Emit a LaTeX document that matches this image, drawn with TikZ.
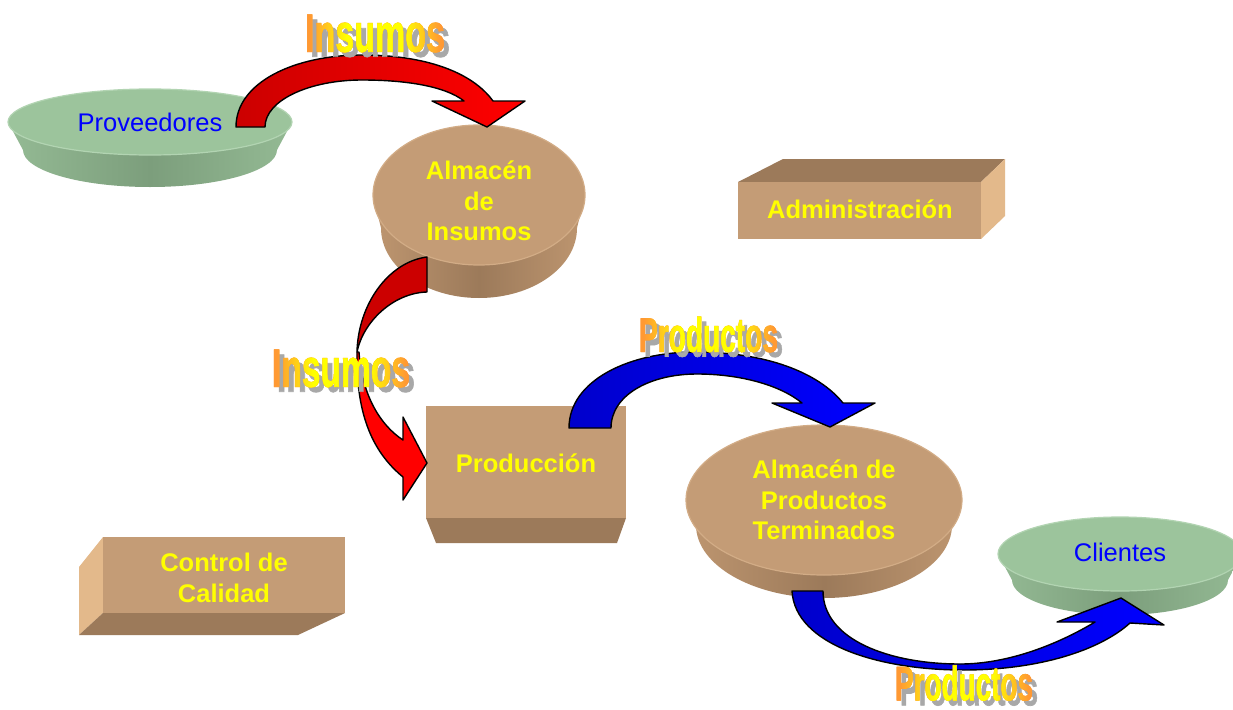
\documentclass[tikz,border=0pt]{standalone}
\usepackage{fontspec}
\setmainfont{Liberation Sans}
\newfontfamily\wafont{Liberation Sans}[BoldFeatures={FakeBold=1.5}]
\usetikzlibrary{fadings,calc}

% palette
\definecolor{tanTop}{HTML}{C49C76}
\definecolor{tanSide}{HTML}{9C7A5A}
\definecolor{tanEdge}{HTML}{BE9670}
\definecolor{tanRim}{HTML}{D2AC86}
\definecolor{tanLight}{HTML}{E3B98B}
\definecolor{grnTop}{HTML}{9CC49C}
\definecolor{grnSide}{HTML}{7C9E7C}
\definecolor{grnEdge}{HTML}{94BA94}
\definecolor{grnRim}{HTML}{B2D4B2}
\definecolor{redD}{HTML}{CC0000}
\definecolor{redB}{HTML}{FF0000}
\definecolor{bluD}{HTML}{0000CC}
\definecolor{bluB}{HTML}{0000FF}
\definecolor{labYellow}{HTML}{FFFF00}
\definecolor{labBlue}{HTML}{0000FF}
\definecolor{waOrange}{HTML}{FF9933}
\definecolor{waYellow}{HTML}{FFFF00}
\definecolor{waShadow}{HTML}{A8A8A8}

% orange-yellow-orange sweep used inside the captions
\pgfdeclarehorizontalshading{wordart}{100bp}{color(0bp)=(waOrange); color(27bp)=(waOrange);
  color(40bp)=(waYellow); color(60bp)=(waYellow); color(73bp)=(waOrange); color(100bp)=(waOrange)}

% stretched headline lettering: word, width, height
\newcommand\waword[3]{\resizebox{#2pt}{#3pt}{\wafont\bfseries #1}}

% flat cylinder: cx, cy top, rx top, ry top, cy bottom, rx bottom, ry bottom, colour prefix
\newcommand\platform[8]{%
  \shade[left color=#8Edge, right color=#8Edge, middle color=#8Side]
    (#1-#3,#2) -- (#1-#6,#5) arc[start angle=180, end angle=0, x radius=#6, y radius=#7]
    -- (#1+#3,#2) arc[start angle=0, end angle=180, x radius=#3, y radius=#4] -- cycle;
  \fill[#8Top] (#1,#2) ellipse[x radius=#3, y radius=#4];
  \draw[#8Rim, line width=1.2pt] (#1,#2) ellipse[x radius=#3, y radius=#4];
}

% lettering masks for the gradient-filled captions
\begin{tikzfadingfrompicture}[name=wfInsA]
  \node[text=transparent!0, inner sep=0pt] {\waword{Insumos}{140}{37}};
\end{tikzfadingfrompicture}
\begin{tikzfadingfrompicture}[name=wfInsB]
  \node[text=transparent!0, inner sep=0pt] {\waword{Insumos}{138}{37}};
\end{tikzfadingfrompicture}
\begin{tikzfadingfrompicture}[name=wfProdA]
  \node[text=transparent!0, inner sep=0pt] {\waword{Productos}{139}{35}};
\end{tikzfadingfrompicture}
\begin{tikzfadingfrompicture}[name=wfProdB]
  \node[text=transparent!0, inner sep=0pt] {\waword{Productos}{138}{35}};
\end{tikzfadingfrompicture}

% caption: node name, position, word, width, height, mask
\newcommand\flowcaption[6]{%
  \fill[waShadow, path fading=#6, fit fading=false,
        fading transform={shift={($(#2)+(5,5)$)}}]
    ($(#2)+(-#4/2-2,-#5/2-2)$) rectangle ($(#2)+(#4/2+7,#5/2+7)$);
  \node[waface] (#1) at (#2) {\waword{#3}{#4}{#5}};
  \shade[shading=wordart, path fading=#6, fit fading=false,
         fading transform={shift={(#1.center)}}]
    ($(#1.center)+(-#4/2-1,-#5/2-1)$) rectangle ($(#1.center)+(#4/2+1,#5/2+1)$);
}

\begin{document}
\begin{tikzpicture}[x=1pt, y=-1pt, line join=round,
  arrowline/.style={draw=black, line width=1.4pt},
  boxlabel/.style={text=labYellow, align=center, inner sep=0pt,
    font=\bfseries\fontsize{25.5}{30.5}\selectfont},
  disclabel/.style={text=labBlue, inner sep=0pt,
    font=\fontsize{25.5}{30.5}\selectfont},
  waface/.style={text=waOrange, inner sep=0pt}]
\useasboundingbox (0,0) rectangle (1233,709);
\fill[white] (0,0) rectangle (1233,709);

% ---------- platforms ----------
\platform{150}{122}{142}{33}{150}{127}{37}{grn}
\platform{479}{195}{106}{70}{228}{98}{70}{tan}
\platform{824}{500}{138}{75}{525}{128}{73}{tan}
\platform{1120}{554}{122}{37}{580}{108}{35}{grn}

% ---------- blocks ----------
% Administracion
\fill[tanSide] (738,182) -- (783,159) -- (1005,159) -- (981,182) -- cycle;
\fill[tanLight] (981,182) -- (1005,159) -- (1005,216) -- (981,239) -- cycle;
\fill[tanTop] (738,182) rectangle (981,239);
% Produccion
\fill[tanSide] (426,518) -- (626,518) -- (617,543) -- (436,543) -- cycle;
\fill[tanTop] (426,406) rectangle (626,518);
% Control de Calidad
\fill[tanLight] (103,537) -- (79,567) -- (79,635) -- (103,613) -- cycle;
\fill[tanSide] (103,613) -- (345,613) -- (298,635) -- (79,635) -- cycle;
\fill[tanTop] (103,537) rectangle (345,613);

% ---------- labels ----------
\node[disclabel] (prov) at (150,122) {Proveedores};
\node[disclabel] (cli) at (1120,552) {Clientes};
\node[boxlabel] (ains) at (479,201) {Almac\'en\\de\\Insumos};
\node[boxlabel] (apt) at (824,500) {Almac\'en de\\Productos\\Terminados};
\node[boxlabel] (adm) at (860,209) {Administraci\'on};
\node[boxlabel] (prod) at (526,463) {Producci\'on};
\node[boxlabel] (cal) at (224,578) {Control de\\Calidad};

% ---------- flow arrows ----------
% supplies into the store
\draw[arrowline, left color=redD, right color=redB]
  (236,127) .. controls (236,82) and (295,55) .. (362,55)
  .. controls (425,55) and (472,72) .. (493,101)
  -- (525,101) -- (487,127) -- (432,101) -- (464,101)
  .. controls (445,86) and (405,80) .. (362,80)
  .. controls (310,80) and (265,100) .. (265,127) -- cycle;
% store to production (twisted ribbon)
\draw[arrowline, fill=redD]
  (427,257) .. controls (388,262) and (358,305) .. (357,352)
  .. controls (363,322) and (393,293) .. (427,292) -- cycle;
\draw[arrowline, fill=redB]
  (357,352) .. controls (356,410) and (370,450) .. (403,477)
  -- (403,500) -- (427,463) -- (403,417) -- (403,440)
  .. controls (380,425) and (362,395) .. (359,352) -- cycle;
% production to finished goods
\draw[arrowline, left color=bluD, right color=bluB]
  (569,428) .. controls (569,380) and (630,352) .. (695,352)
  .. controls (765,352) and (818,372) .. (843,403)
  -- (875,403) -- (830,427) -- (772,403) -- (802,403)
  .. controls (780,385) and (740,374) .. (697,374)
  .. controls (650,374) and (611,395) .. (611,428) -- cycle;
% finished goods to customers
\draw[arrowline, left color=bluD, right color=bluB]
  (792,591) .. controls (795,645) and (880,670) .. (963,670)
  .. controls (1040,670) and (1100,650) .. (1130,623)
  -- (1164,625) -- (1121,598) -- (1057,622) -- (1095,622)
  .. controls (1060,643) and (1010,664) .. (960,664)
  .. controls (890,664) and (823,640) .. (823,591) -- cycle;

% ---------- flow captions ----------
\flowcaption{cinsA}{375,33.5}{Insumos}{140}{37}{wfInsA}
\flowcaption{cinsB}{341,368.5}{Insumos}{138}{37}{wfInsB}
\flowcaption{cprodA}{708.5,334.5}{Productos}{139}{35}{wfProdA}
\flowcaption{cprodB}{964,683}{Productos}{138}{35}{wfProdB}
\end{tikzpicture}
\end{document}
